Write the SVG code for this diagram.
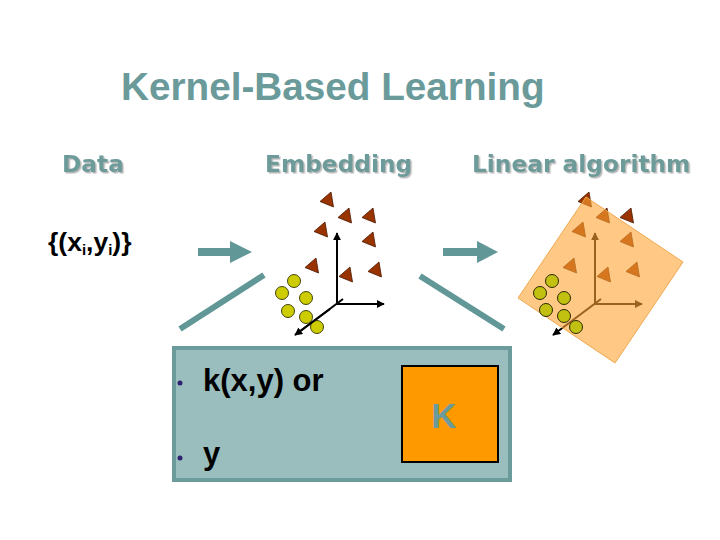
<svg xmlns="http://www.w3.org/2000/svg" xmlns:xlink="http://www.w3.org/1999/xlink" width="720" height="540" viewBox="0 0 720 540">
<style>
.title{font-family:"Liberation Sans",Arial,sans-serif;font-weight:bold;font-size:38.7px;fill:#6a9a9a}
.hdr{font-family:"DejaVu Sans",Verdana,sans-serif;font-weight:bold;font-size:23.3px;fill:#6c9b9a;filter:url(#sh)}
.data{font-family:"Liberation Sans",Arial,sans-serif;font-weight:bold;font-size:26.5px;fill:#000}
.sub{font-size:15px}
.btxt{font-family:"Liberation Sans",Arial,sans-serif;font-weight:bold;font-size:31px;fill:#000}
.ktxt{font-family:"Liberation Sans",Arial,sans-serif;font-weight:bold;font-size:35px;fill:#6a9a9a}
.conn{stroke:#629797;stroke-width:6;fill:none}
.ahead{fill:#629797}
.tri{fill:#993300;stroke:#4a1800;stroke-width:0.8}
.pt{fill:#cccc00;stroke:#333300;stroke-width:0.9}
.pt2{fill:#c2c010;stroke:#2a2a00;stroke-width:1}
.axis{stroke:#000;stroke-width:2;fill:none}
.bullet{fill:#2d2270}
</style>
<defs>
<filter id="sh" x="-5%" y="-20%" width="115%" height="150%">
<feDropShadow dx="1.5" dy="1.5" stdDeviation="0.4" flood-color="#b8b8b8" flood-opacity="1"/>
</filter>
<marker id="ah" viewBox="0 0 10 10" refX="9" refY="5" markerWidth="4" markerHeight="4" orient="auto" markerUnits="strokeWidth">
<path d="M0,0 L10,5 L0,10 Z" fill="#000"/>
</marker>
<path id="tri" d="M-8,1.5 L3,-8 L5.5,7 Z"/>
<g id="plotbase">
<use href="#tri" class="tri" x="328" y="200"/>
<use href="#tri" class="tri" x="346" y="216"/>
<use href="#tri" class="tri" x="370" y="216"/>
<use href="#tri" class="tri" x="322" y="230"/>
<use href="#tri" class="tri" x="370" y="240"/>
<use href="#tri" class="tri" x="313" y="266"/>
<use href="#tri" class="tri" x="347" y="275"/>
<use href="#tri" class="tri" x="376" y="270"/>
<line class="axis" x1="337" y1="304" x2="337" y2="233" marker-end="url(#ah)"/>
<line class="axis" x1="336" y1="304" x2="384" y2="304" marker-end="url(#ah)"/>
<line class="axis" x1="343" y1="299" x2="295" y2="335" marker-end="url(#ah)"/>
</g>
</defs>

<text class="title" x="121" y="100">Kernel-Based Learning</text>

<g id="label-data"><text class="hdr" x="62" y="172">Data</text></g>
<g id="label-embedding"><text class="hdr" x="265" y="172">Embedding</text></g>
<g id="label-linear"><text class="hdr" x="472" y="172">Linear algorithm</text></g>

<g id="node-data">
<text class="data" x="48" y="251">{(x<tspan class="sub" dy="4">i</tspan><tspan dy="-4">,y</tspan><tspan class="sub" dy="4">i</tspan><tspan dy="-4">)}</tspan></text>
</g>

<g id="node-embedding">
<use href="#plotbase"/>
<circle class="pt" cx="294" cy="281" r="6.5"/>
<circle class="pt" cx="282" cy="293" r="6.5"/>
<circle class="pt" cx="306" cy="298" r="6.5"/>
<circle class="pt" cx="288" cy="311" r="6.5"/>
<circle class="pt" cx="306" cy="317" r="6.5"/>
<circle class="pt" cx="317" cy="327" r="6.5"/>
<line class="axis" x1="330" y1="309" x2="297" y2="333.5"/>
</g>

<g id="node-linear">
<use href="#plotbase" x="258"/>
<polygon points="586,197 683,262 615,363 518,298" fill="#ffa533" fill-opacity="0.6" stroke="#f0a850" stroke-width="1"/>
<circle class="pt2" cx="552" cy="281" r="6.5"/>
<circle class="pt2" cx="540" cy="293" r="6.5"/>
<circle class="pt2" cx="564" cy="298" r="6.5"/>
<circle class="pt2" cx="546" cy="310" r="6.5"/>
<circle class="pt2" cx="564" cy="316" r="6.5"/>
<circle class="pt2" cx="576" cy="327" r="6.5"/>
</g>

<g id="node-kernel">
<rect x="174" y="348" width="336" height="132" fill="#9abebd" stroke="#6b9b9a" stroke-width="4"/>
<circle class="bullet" cx="180" cy="383" r="2.5"/>
<text class="btxt" x="203" y="391">k(x,y) or</text>
<circle class="bullet" cx="180" cy="458" r="2.5"/>
<text class="btxt" x="203" y="464">y</text>
<rect x="402" y="366" width="96" height="96" fill="#ff9900" stroke="#000" stroke-width="2"/>
<text class="ktxt" x="444" y="428" text-anchor="middle">K</text>
</g>

<g id="connectors">
<rect class="ahead" x="198" y="248" width="34" height="8"/>
<polygon class="ahead" points="230,241 252,252 230,263"/>
<rect class="ahead" x="443" y="248" width="36" height="8"/>
<polygon class="ahead" points="477,241 498,252 477,263"/>
<line class="conn" x1="180" y1="329" x2="264" y2="275"/>
<line class="conn" x1="420" y1="276" x2="504" y2="329"/>
</g>
</svg>
